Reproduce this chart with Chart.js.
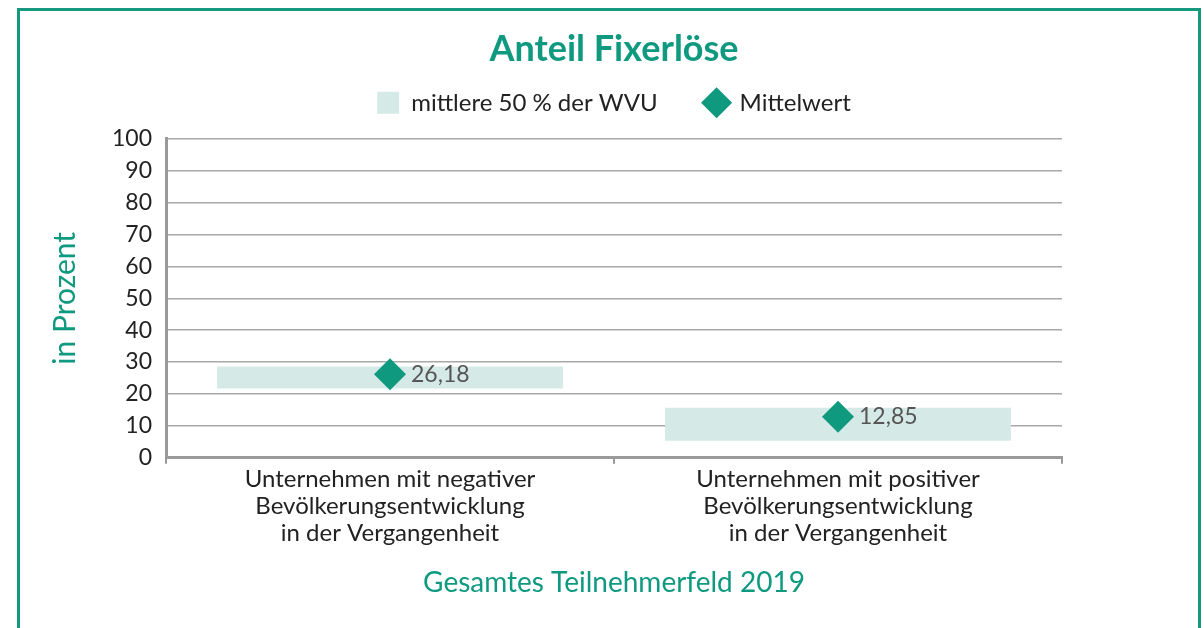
<!DOCTYPE html>
<html>
<head>
<meta charset="utf-8">
<script src="https://cdn.jsdelivr.net/npm/chart.js@4/dist/chart.umd.min.js"></script>
<style>
  body { margin: 0; background: #fff; }
  #frame {
    position: absolute; left: 17px; top: 8px; width: 1178px; height: 700px;
    border: 3px solid #14997f;
  }
  #wrap { position: absolute; left: 0; top: 0; width: 1204px; height: 628px; }
</style>
</head>
<body>
<div id="frame"></div>
<div id="wrap"><canvas id="fixChart"></canvas></div>
<script>
// data
const categories = [
  ['Unternehmen mit negativer', 'Bevölkerungsentwicklung', 'in der Vergangenheit'],
  ['Unternehmen mit positiver', 'Bevölkerungsentwicklung', 'in der Vergangenheit']
];
const lowerQuartile = [21.7, 5.3];
const upperQuartile = [28.6, 15.7];
const meanValues = [26.18, 12.85];
const meanLabels = ['26,18', '12,85'];

const TEAL = '#0f9a80';
const FONT = 'Lato';

// draws the value next to each diamond
const valueLabels = {
  id: 'valueLabels',
  afterDatasetsDraw(chart) {
    const meta = chart.getDatasetMeta(1);
    const ctx = chart.ctx;
    ctx.save();
    ctx.font = '23px ' + FONT;
    ctx.fillStyle = '#555';
    ctx.textBaseline = 'middle';
    meta.data.forEach((pt, i) => {
      ctx.fillText(meanLabels[i], pt.x + 21, pt.y);
    });
    ctx.restore();
  }
};

new Chart(document.getElementById('fixChart'), {
  data: {
    labels: categories,
    datasets: [
      {
        type: 'bar',
        label: 'mittlere 50 % der WVU',
        data: lowerQuartile.map((lo, i) => [lo, upperQuartile[i]]),
        backgroundColor: '#d5eae6',
        borderWidth: 0,
        barPercentage: 0.772,
        categoryPercentage: 1,
        order: 2
      },
      {
        type: 'line',
        label: 'Mittelwert',
        data: meanValues,
        showLine: false,
        pointStyle: 'rectRot',
        pointRadius: 16,
        pointHoverRadius: 16,
        backgroundColor: TEAL,
        borderColor: TEAL,
        pointBackgroundColor: TEAL,
        pointBorderColor: TEAL,
        pointBorderWidth: 0,
        order: 1
      }
    ]
  },
  options: {
    responsive: true,
    maintainAspectRatio: false,
    animation: false,
    layout: { padding: { top: 28, left: 18, right: 142, bottom: 28 } },
    plugins: {
      title: {
        display: true,
        text: 'Anteil Fixerlöse',
        color: TEAL,
        fullSize: false,
        font: { family: FONT, size: 36, weight: 'bold', lineHeight: 1.2 },
        padding: { top: 0, bottom: -28.4 }
      },
      // empty spacer between legend and plot
      subtitle: {
        display: true,
        text: '',
        weight: 500,
        fullSize: false,
        font: { size: 14, lineHeight: 1 },
        padding: 0
      },
      legend: {
        display: true,
        fullSize: false,
        labels: {
          usePointStyle: true,
          boxHeight: 22,
          boxWidth: 22,
          padding: 48,
          color: '#222',
          font: { family: FONT, size: 24 },
          sort: (a, b) => a.datasetIndex - b.datasetIndex,
          generateLabels(chart) {
            const items = Chart.defaults.plugins.legend.labels.generateLabels(chart);
            items.forEach(it => {
              it.pointStyle = it.datasetIndex === 0 ? 'rect' : 'rectRot';
              it.lineWidth = 0;
            });
            return items;
          }
        }
      },
      tooltip: { enabled: false }
    },
    scales: {
      x: {
        offset: true,
        grid: {
          offset: true,
          drawOnChartArea: false,
          drawTicks: true,
          tickLength: 6,
          color: '#9a9a9a',
          lineWidth: 2
        },
        border: { color: '#9a9a9a', width: 3 },
        ticks: {
          color: '#222',
          padding: 2,
          maxRotation: 0,
          font: { family: FONT, size: 24, lineHeight: 1.12 }
        },
        title: {
          display: true,
          text: 'Gesamtes Teilnehmerfeld 2019',
          color: TEAL,
          font: { family: FONT, size: 28, lineHeight: 1.2 },
          padding: { top: 18, bottom: 0 }
        }
      },
      y: {
        min: 0,
        max: 100,
        ticks: {
          stepSize: 10,
          autoSkip: false,
          color: '#222',
          padding: 14,
          font: { family: FONT, size: 23 }
        },
        grid: { color: '#a8a8a8', lineWidth: 1.5, tickLength: 0 },
        border: { color: '#9a9a9a', width: 3 },
        title: {
          display: true,
          text: 'in Prozent',
          color: TEAL,
          font: { family: FONT, size: 30, lineHeight: 1.2 },
          padding: { top: 29, bottom: 0 }
        },
        afterFit(scale) { scale.width = 148; }
      }
    }
  },
  plugins: [valueLabels]
});
</script>
</body>
</html>
